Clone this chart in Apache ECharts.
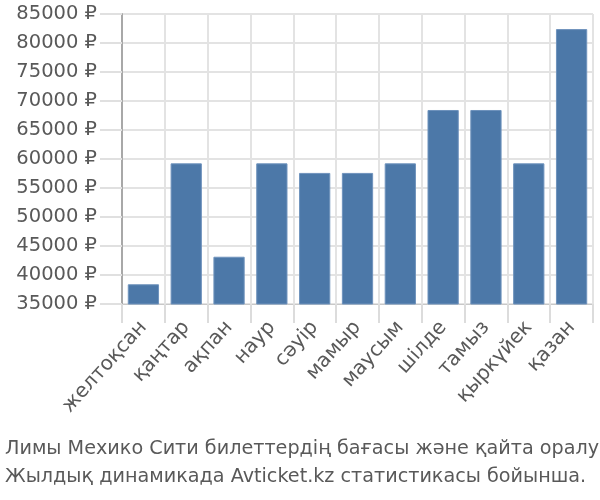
<!DOCTYPE html>
<html>
<head>
<meta charset="utf-8">
<script src="https://cdn.jsdelivr.net/npm/echarts@6/dist/echarts.min.js"></script>
<style>html,body{margin:0;padding:0;background:#fff}#c{width:600px;height:500px}</style>
</head>
<body>
<div id="c"></div>
<script>
const categories = ['желтоқсан','қаңтар','ақпан','наур','сәуір','мамыр','маусым','шілде','тамыз','қыркүйек','қазан'];
const prices = [38400, 59250, 43150, 59250, 57600, 57600, 59250, 68450, 68450, 59250, 82400];
const yTicks = {min: 35000, max: 85000, step: 5000, suffix: ' ₽'};
const titleLines = ['Лимы Мехико Сити билеттердің бағасы және қайта оралу', 'Жылдық динамикада Avticket.kz статистикасы бойынша.'];

const chart = echarts.init(document.getElementById('c'), null, {renderer: 'canvas'});
chart.setOption({
  animation: false,
  textStyle: {fontFamily: 'DejaVu Sans'},
  title: {
    text: titleLines.join('\n'),
    left: 0, top: 430,
    textStyle: {fontFamily: 'DejaVu Sans', fontSize: 19.2, fontWeight: 'normal', color: '#595959', lineHeight: 28}
  },
  grid: {left: 122, right: 7, top: 14, bottom: 196, containLabel: false},
  xAxis: {
    type: 'category', data: categories,
    axisLine: {show: true, lineStyle: {color: '#c8c8c8', width: 1}},
    axisTick: {show: true, length: 19, alignWithLabel: false, lineStyle: {color: '#dcdcdc', width: 2}},
    splitLine: {show: true, lineStyle: {color: '#e3e3e3', width: 2}},
    axisLabel: {rotate: 48, fontSize: 20, fontFamily: 'DejaVu Sans', color: '#595959', margin: 20, interval: 0}
  },
  yAxis: {
    type: 'value', min: yTicks.min, max: yTicks.max, interval: yTicks.step,
    axisLine: {show: true, lineStyle: {color: '#a8a8a8', width: 2}},
    axisTick: {show: true, length: 22, lineStyle: {color: '#e0e0e0', width: 2}},
    splitLine: {show: true, lineStyle: {color: '#e3e3e3', width: 2}},
    axisLabel: {fontSize: 19.5, fontFamily: 'DejaVu Sans', color: '#595959', margin: 25, formatter: v => v + yTicks.suffix}
  },
  series: [{
    type: 'bar', data: prices, barCategoryGap: '27%',
    itemStyle: {color: '#4c78a8', borderColor: '#6f93bd', borderWidth: 1}
  }]
});
</script>
</body>
</html>
